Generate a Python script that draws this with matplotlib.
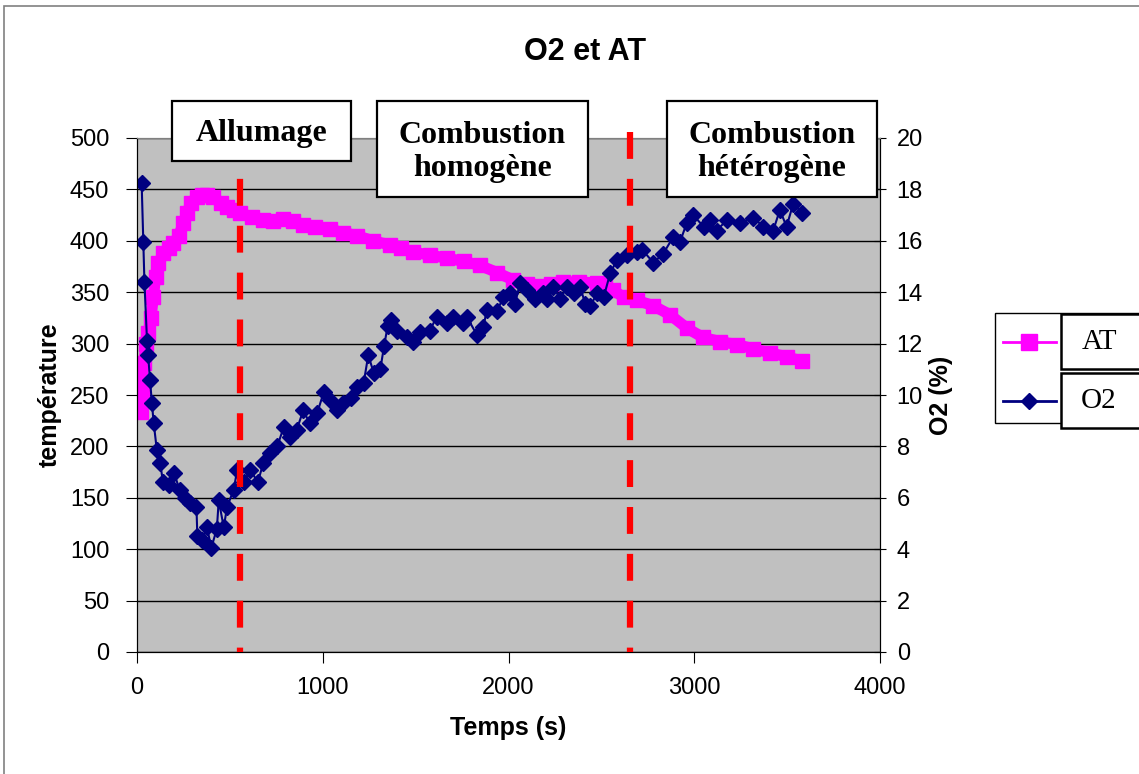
import matplotlib
matplotlib.use("Agg")
import matplotlib.pyplot as plt
from matplotlib.patches import Rectangle
from matplotlib.lines import Line2D

# ~~~~~~~~~~ Data ~~~~~~~~~~ #
at_t = [20, 25, 35, 50, 60, 75, 88, 100, 115, 142, 170, 196, 225, 249, 270, 290,
        322, 350, 377, 410, 450, 484, 520, 555, 620, 680, 730, 786, 840, 895,
        960, 1040, 1110, 1184, 1270, 1362, 1420, 1486, 1580, 1669, 1760, 1847,
        1940, 2024, 2100, 2170, 2230, 2294, 2380, 2476, 2520, 2563, 2620, 2692,
        2778, 2870, 2961, 3047, 3139, 3230, 3317, 3410, 3500, 3580]
at_val = [233, 253, 281, 300, 310, 325, 345, 365, 378, 388, 393, 398, 405, 417, 427, 437,
          443, 445, 445, 443, 437, 433, 430, 427, 423, 420, 419, 421, 419, 415,
          413, 411, 408, 405, 400, 396, 393, 389, 386, 383, 380, 376,
          369, 362, 358, 356, 358, 360, 360, 359, 357, 352, 345, 342,
          337, 328, 315, 306, 302, 299, 295, 291, 287, 283]

o2_t = [25, 34, 40, 54, 60, 70, 80, 90, 107, 125, 140, 170, 200, 230, 260, 285,
        320, 325, 350, 377, 400, 430, 440, 467, 485, 520, 540, 575, 610, 650,
        680, 715, 755, 790, 825, 860, 895, 930, 970, 1005, 1040, 1075, 1110,
        1150, 1185, 1220, 1245, 1275, 1310, 1330, 1350, 1370, 1398, 1452, 1487,
        1523, 1577, 1613, 1667, 1703, 1757, 1775, 1829, 1865, 1883, 1937, 1972,
        2008, 2035, 2062, 2098, 2143, 2188, 2206, 2242, 2278, 2314, 2350, 2386,
        2413, 2440, 2476, 2512, 2548, 2584, 2638, 2692, 2720, 2780, 2833, 2887,
        2923, 2960, 2995, 3050, 3085, 3120, 3175, 3247, 3318, 3372, 3425, 3461,
        3497, 3533, 3578]
o2_val = [18.25, 15.95, 14.4, 12.1, 11.55, 10.6, 9.7, 8.9, 7.85, 7.35, 6.6, 6.5, 6.95, 6.3, 6.0, 5.8,
          5.65, 4.5, 4.35, 4.85, 4.05, 4.8, 5.9, 4.85, 5.65, 6.3, 7.1, 6.6, 7.1, 6.6,
          7.35, 7.75, 8.0, 8.75, 8.35, 8.65, 9.4, 8.9, 9.3, 10.1, 9.8, 9.4, 9.7,
          9.9, 10.3, 10.45, 11.55, 10.85, 11.0, 11.9, 12.7, 12.9, 12.5, 12.25, 12.05,
          12.45, 12.5, 13.05, 12.8, 13.05, 12.8, 13.05, 12.35, 12.65, 13.3, 13.25, 13.8,
          13.95, 13.55, 14.35, 14.1, 13.75, 13.95, 13.75, 14.2, 13.75, 14.2, 13.95, 14.2,
          13.55, 13.45, 13.95, 13.8, 14.75, 15.25, 15.45, 15.55, 15.65, 15.15, 15.5, 16.15,
          15.95, 16.7, 17.0, 16.55, 16.8, 16.4, 16.8, 16.7, 16.9, 16.55, 16.4, 17.2,
          16.55, 17.45, 17.1]

phase_t = [555, 2654]
phase_labels = ["Allumage", "Combustion\nhomogène", "Combustion\nhétérogène"]
x_ticks = [0, 1000, 2000, 3000, 4000]

W, H = 1139, 774
def fx(px):
    return px / W
def fy(py):
    return 1 - py / H

plt.rcParams['font.family'] = ['Liberation Sans', 'DejaVu Sans']

fig = plt.figure(figsize=(W / 100, H / 100), dpi=100)
ax = fig.add_axes([fx(137), fy(652), (880 - 137) / W, (652 - 138) / H])
ax.set_facecolor('#c0c0c0')
ax2 = ax.twinx()

# Series
ax.plot(at_t, at_val, color='#ff00ff', lw=8, marker='s', ms=10,
        mec='#ff00ff', mfc='#ff00ff', solid_joinstyle='round', label='AT')
ax2.plot(o2_t, o2_val, color='#000080', lw=1.5, marker='D', ms=8,
         mec='#000080', mfc='#000080', label='O2')

# Phase separators (dashed red)
for t in phase_t:
    ax2.plot([t, t], [20.25, 0], color='red', lw=4.5, ls=(0, (4.3, 3.2)),
             clip_on=False, zorder=5)

# Axes
ax.set_xlim(0, 4000)
ax.set_ylim(0, 500)
ax2.set_ylim(0, 20)
ax.set_xticks(x_ticks)
ax.set_yticks(range(0, 501, 50))
ax2.set_yticks(range(0, 21, 2))
ax.yaxis.grid(True, color='black', lw=1)
ax.set_axisbelow(True)

ax.tick_params(axis='both', labelsize=17, length=8, direction='out', color='black')
ax.tick_params(axis='y', pad=12)
ax.tick_params(axis='x', pad=10)
ax2.tick_params(axis='y', labelsize=17, length=8, direction='inout', pad=8)

for a in (ax, ax2):
    a.spines['top'].set_color('#808080')
    a.spines['left'].set_color('black')
    a.spines['bottom'].set_color('black')
    a.spines['right'].set_color('black')

ax.set_xlabel("Temps (s)", fontsize=18, fontweight='bold', labelpad=12)
ax.set_ylabel("température", fontsize=18, fontweight='bold', labelpad=6)
ax2.set_ylabel("O2 (%)", fontsize=18, fontweight='bold', labelpad=4)

fig.text(fx(585), fy(52), "O2 et AT", fontsize=22, fontweight='bold',
         ha='center', va='center')

# Phase boxes
boxes = [(172, 351, 101, 161), (377, 588, 101, 197), (667, 877, 101, 197)]
for (x0, x1, y0, y1), lab in zip(boxes, phase_labels):
    fig.patches.append(Rectangle((fx(x0), fy(y1)), fx(x1) - fx(x0), fy(y0) - fy(y1),
                                 transform=fig.transFigure, fc='white', ec='black',
                                 lw=1.6, zorder=10))
    fig.text(fx((x0 + x1) / 2), fy((y0 + y1) / 2 + 3), lab, ha='center', va='center',
             family='Liberation Serif', fontweight='bold', fontsize=23,
             linespacing=1.2, zorder=11)

# Legend, drawn by hand
fig.patches.append(Rectangle((fx(995), fy(423)), fx(1145) - fx(995), fy(313) - fy(423),
                             transform=fig.transFigure, fc='white', ec='black',
                             lw=1, zorder=10))
for (y0, y1), lab, col, mk, size in [((314, 369), "AT", '#ff00ff', 's', 11),
                                     ((373, 428), "O2", '#000080', 'D', 8)]:
    fig.patches.append(Rectangle((fx(1061), fy(y1)), fx(1145) - fx(1061), fy(y0) - fy(y1),
                                 transform=fig.transFigure, fc='white', ec='black',
                                 lw=1.8, zorder=11))
    yc = fy((y0 + y1) / 2)
    fig.text(fx(1099), yc, lab, ha='center', va='center', family='Liberation Serif',
             fontsize=21, zorder=12)
    fig.lines.append(Line2D([fx(1003), fx(1056)], [yc, yc], transform=fig.transFigure,
                            color=col, lw=2, zorder=12))
    fig.lines.append(Line2D([fx(1029)], [yc], transform=fig.transFigure, color=col,
                            marker=mk, ms=size, zorder=12))

# Outer chart frame
fig.patches.append(Rectangle((fx(4), -0.05), 1.2, fy(6) + 0.05, transform=fig.transFigure,
                             fc='none', ec='#808080', lw=1.2, zorder=1))

fig.savefig("out.png", dpi=100)
